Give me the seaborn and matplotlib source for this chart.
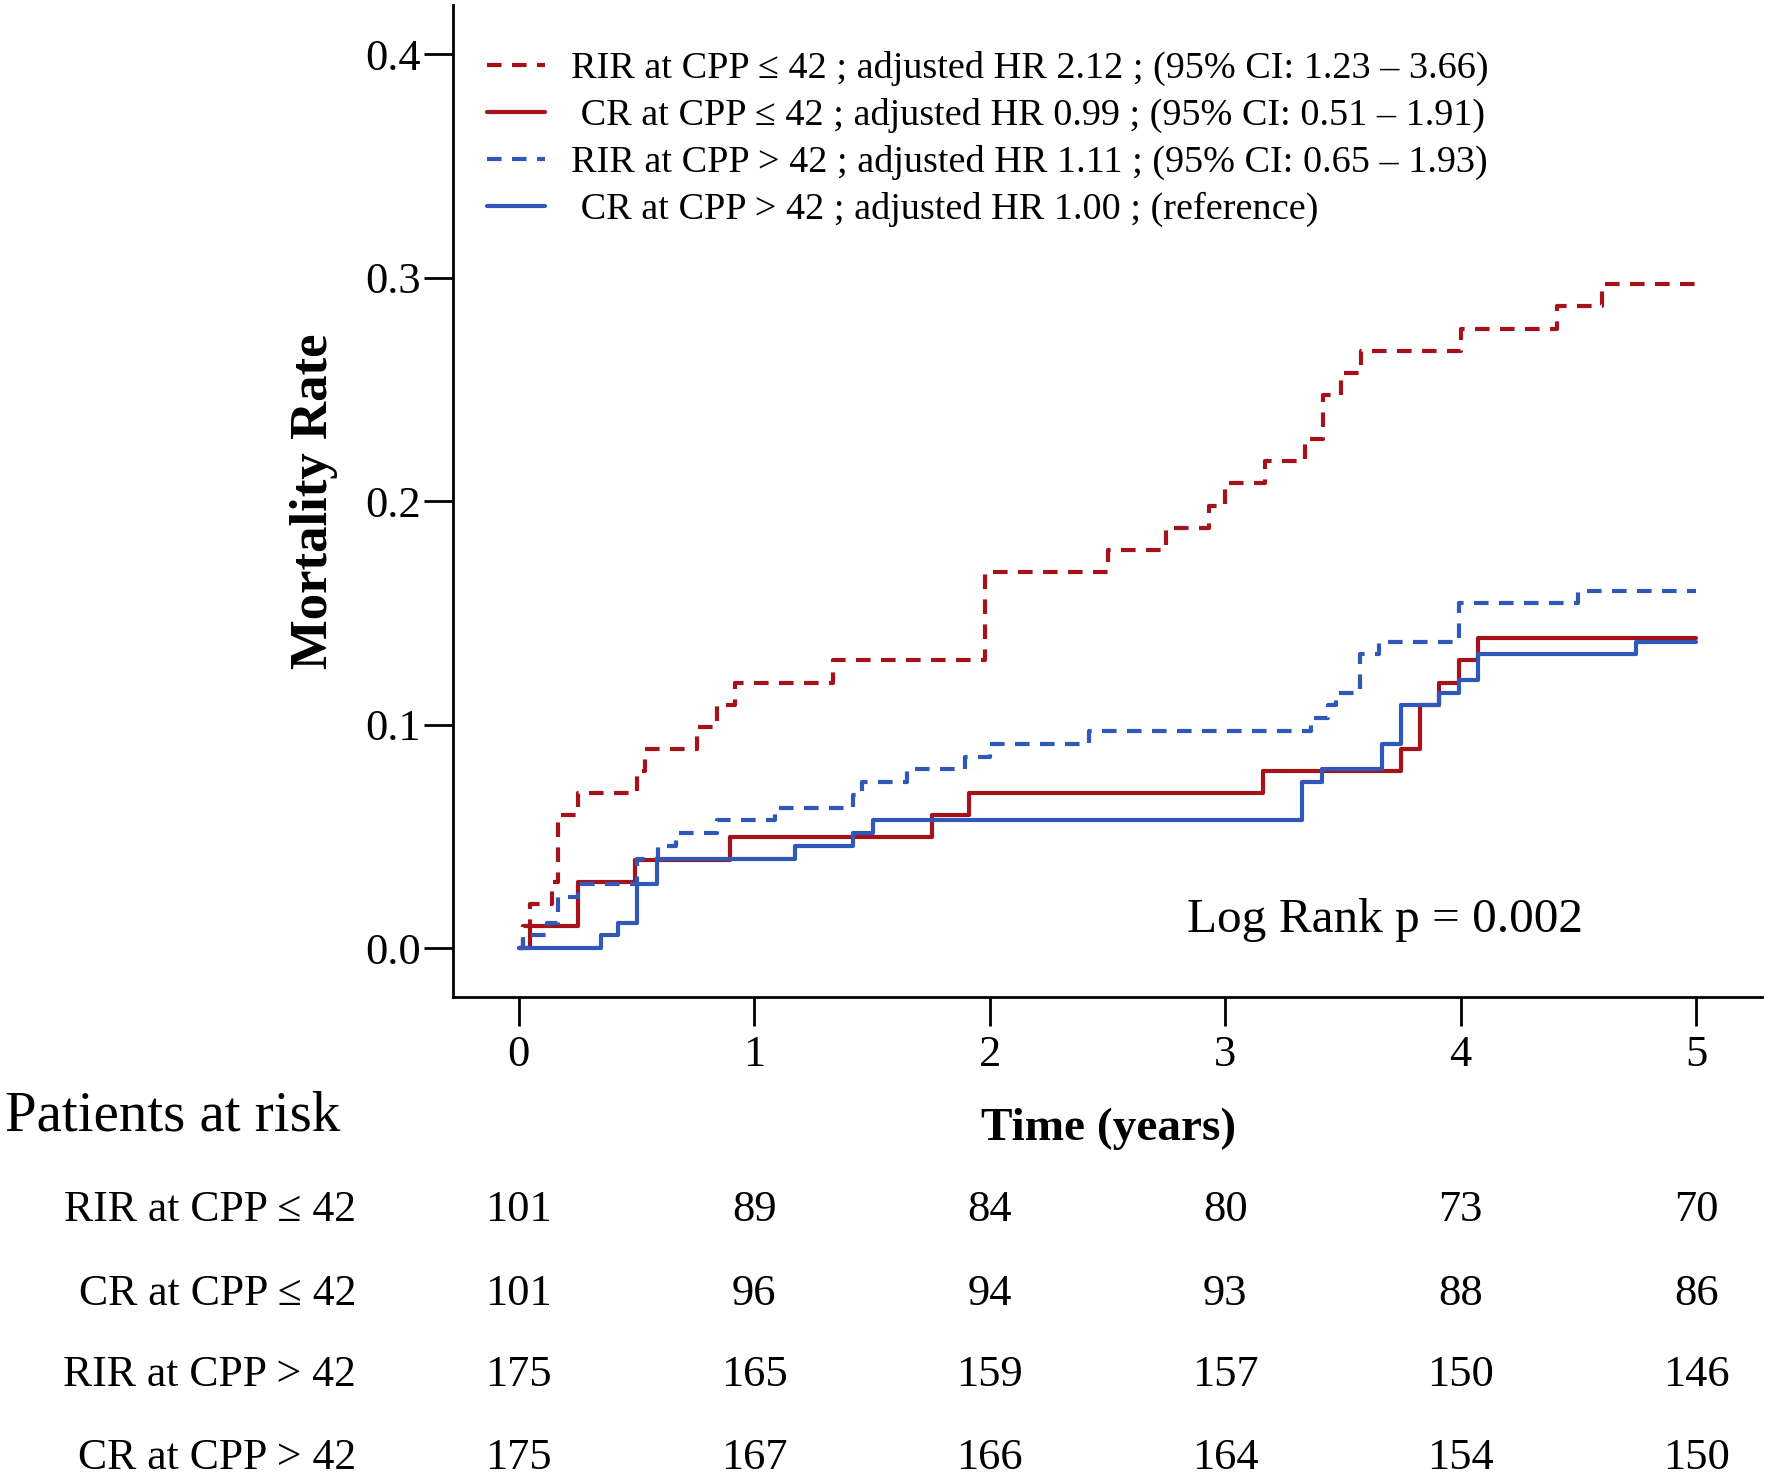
import numpy as np
import pandas as pd
import matplotlib
matplotlib.use("Agg")
import matplotlib.pyplot as plt
import matplotlib.transforms as mtransforms
import seaborn as sns

# Kaplan-Meier style cumulative mortality
rir_low_t = [0, 0.018, 0.047, 0.139, 0.167, 0.252, 0.50, 0.535, 0.755, 0.84, 0.917, 1.335,
             1.98, 2.504, 2.75, 2.93, 3.0, 3.169, 3.34, 3.416, 3.493, 3.575, 4.0, 4.41, 4.6, 5.0]
rir_low_y = [0, 0.0099, 0.0198, 0.0297, 0.0594, 0.0693, 0.0792, 0.0891, 0.099, 0.1089, 0.1188, 0.1287,
             0.1683, 0.1782, 0.1881, 0.198, 0.2079, 0.2178, 0.2277, 0.2475, 0.2574, 0.2673, 0.2772, 0.2871, 0.297, 0.297]

cr_low_t = [0, 0.047, 0.252, 0.493, 0.896, 1.753, 1.91, 3.16, 3.746, 3.828, 3.91, 3.993, 4.075, 5.0]
cr_low_y = [0, 0.0099, 0.0297, 0.0396, 0.0495, 0.0594, 0.0693, 0.0792, 0.0891, 0.1089, 0.1188, 0.1287, 0.1386, 0.1386]

rir_high_t = [0, 0.018, 0.118, 0.167, 0.252, 0.50, 0.592, 0.668, 0.84, 1.087, 1.42, 1.456, 1.647, 1.894,
              1.999, 2.42, 3.366, 3.438, 3.47, 3.571, 3.654, 3.993, 4.497, 5.0]
rir_high_y = [0, 0.0057, 0.0114, 0.0229, 0.0286, 0.04, 0.0457, 0.0514, 0.0571, 0.0629, 0.0686, 0.0743, 0.08, 0.0857,
              0.0914, 0.0971, 0.1029, 0.1086, 0.1143, 0.1314, 0.1371, 0.1543, 0.16, 0.16]

cr_high_t = [0, 0.351, 0.422, 0.50, 0.585, 1.172, 1.42, 1.505, 3.325, 3.41, 3.664, 3.746, 3.91, 3.993, 4.075, 4.743, 5.0]
cr_high_y = [0, 0.0057, 0.0114, 0.0286, 0.04, 0.0457, 0.0514, 0.0571, 0.0743, 0.08, 0.0914, 0.1086, 0.1143, 0.12, 0.1314, 0.1371, 0.1371]

labels = [
    "RIR at CPP \u2264 42 ; adjusted HR 2.12 ; (95% CI: 1.23 \u2013 3.66)",
    " CR at CPP \u2264 42 ; adjusted HR 0.99 ; (95% CI: 0.51 \u2013 1.91)",
    "RIR at CPP > 42 ; adjusted HR 1.11 ; (95% CI: 0.65 \u2013 1.93)",
    " CR at CPP > 42 ; adjusted HR 1.00 ; (reference)",
]

risk_labels = ["RIR at CPP \u2264 42", "CR at CPP \u2264 42", "RIR at CPP > 42", "CR at CPP > 42"]
risk_times = [0, 1, 2, 3, 4, 5]
risk_rir_low = [101, 89, 84, 80, 73, 70]
risk_cr_low = [101, 96, 94, 93, 88, 86]
risk_rir_high = [175, 165, 159, 157, 150, 146]
risk_cr_high = [175, 167, 166, 164, 154, 150]

red = "#A5121A"
blue = "#2F58B8"

frames = []
for lab, t, y in zip(labels,
                     [rir_low_t, cr_low_t, rir_high_t, cr_high_t],
                     [rir_low_y, cr_low_y, rir_high_y, cr_high_y]):
    frames.append(pd.DataFrame({"time": t, "rate": y, "group": lab}))
df = pd.concat(frames, ignore_index=True)

sns.set_theme(style="white")
plt.rcParams["font.family"] = ["Liberation Serif", "DejaVu Serif"]
plt.rcParams["text.color"] = "black"
plt.rcParams["axes.labelcolor"] = "black"

fig = plt.figure(figsize=(17.72, 14.81), dpi=100)
ax = fig.add_axes([0.2556, 0.3268, 0.7388, 0.6698])

palette = {labels[0]: red, labels[1]: red, labels[2]: blue, labels[3]: blue}
dashes = {labels[0]: (3.5, 2.5), labels[1]: "", labels[2]: (3.5, 2.5), labels[3]: ""}

sns.lineplot(data=df, x="time", y="rate", hue="group", style="group",
             palette=palette, dashes=dashes, hue_order=labels, style_order=labels,
             drawstyle="steps-post", estimator=None, sort=False,
             linewidth=3, ax=ax)

ax.set_xlim(-0.28, 5.28)
ax.set_ylim(-0.0219, 0.422)
ax.set_xticks([0, 1, 2, 3, 4, 5])
ax.set_yticks([0.0, 0.1, 0.2, 0.3, 0.4])
ax.set_yticklabels(["0.0", "0.1", "0.2", "0.3", "0.4"])
ax.tick_params(axis="both", direction="out", length=21, width=2, labelsize=32,
               color="black", labelcolor="black", left=True, bottom=True)
ax.tick_params(axis="y", pad=2)
ax.tick_params(axis="x", pad=6)
for side in ["top", "right"]:
    ax.spines[side].set_visible(False)
for side in ["left", "bottom"]:
    ax.spines[side].set_color("black")
    ax.spines[side].set_linewidth(2)

ax.set_xlabel("")
ax.set_ylabel("Mortality Rate", fontsize=38, fontweight="bold")
ax.yaxis.set_label_coords(-0.088, 0.5)

handles, _ = ax.get_legend_handles_labels()
ax.legend(handles=handles, labels=labels, loc="upper left",
          bbox_to_anchor=(0.0, 0.988), frameon=False, fontsize=27.5,
          handlelength=1.5, handletextpad=0.7, labelspacing=0.31)

ax.text(3.68, 0.0126, "Log Rank p = 0.002", fontsize=35.5, ha="center", va="center")

fig.text(0.6255, 0.238, "Time (years)", fontsize=34, fontweight="bold",
         ha="center", va="center")
fig.text(0.003, 0.246, "Patients at risk", fontsize=41, ha="left", va="center")

trans = mtransforms.blended_transform_factory(ax.transData, fig.transFigure)
row_y = [0.183, 0.126, 0.0716, 0.0155]
for lab, counts, yy in zip(risk_labels,
                           [risk_rir_low, risk_cr_low, risk_rir_high, risk_cr_high],
                           row_y):
    fig.text(0.201, yy, lab, fontsize=31.5, ha="right", va="center")
    for t, n in zip(risk_times, counts):
        ax.text(t, yy, str(n), fontsize=32, ha="center", va="center",
                transform=trans, clip_on=False)

fig.savefig("out.png", dpi=100, facecolor="white")
